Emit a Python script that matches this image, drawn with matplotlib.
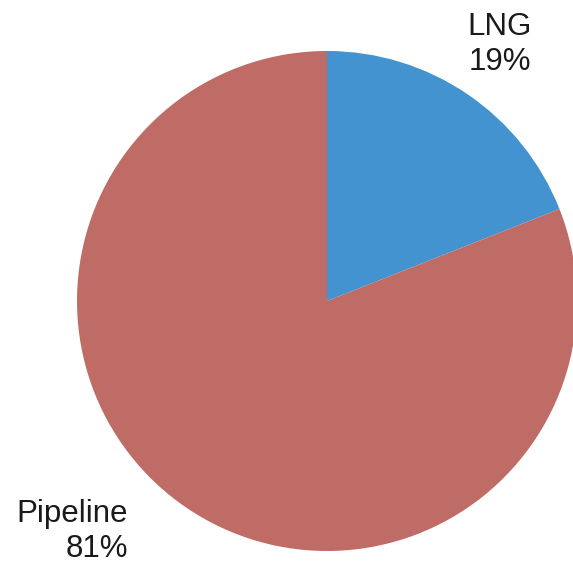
import numpy as np
import matplotlib
matplotlib.use('Agg')
import matplotlib.pyplot as plt

labels = ['LNG', 'Pipeline']
shares = [19, 81]
colors = ['#4393D0', '#C06C66']

W, H = 573, 566
fig = plt.figure(figsize=(W / 100, H / 100), dpi=100)
ax = fig.add_axes([0, 0, 1, 1])

#Pie
#---------------------------------------------------
ax.pie(shares, colors=colors, startangle=90, counterclock=False,
       center=(327, H - 301), radius=250, frame=True)
ax.set_xlim(0, W)
ax.set_ylim(0, H)
ax.set_aspect('equal')
ax.axis('off')
#---------------------------------------------------

#Labels
#---------------------------------------------------
font = dict(fontsize=22.5, color='#1a1a1a', family=['Liberation Sans', 'DejaVu Sans'],
            linespacing=1.22)
ax.text(500, H - 12, labels[0] + '\n' + str(shares[0]) + '%', ha='center', va='top',
        multialignment='center', **font)
ax.text(128, H - 499, labels[1] + '\n' + str(shares[1]) + '%', ha='right', va='top',
        multialignment='right', **font)
#---------------------------------------------------

fig.savefig('out.png', dpi=100)
